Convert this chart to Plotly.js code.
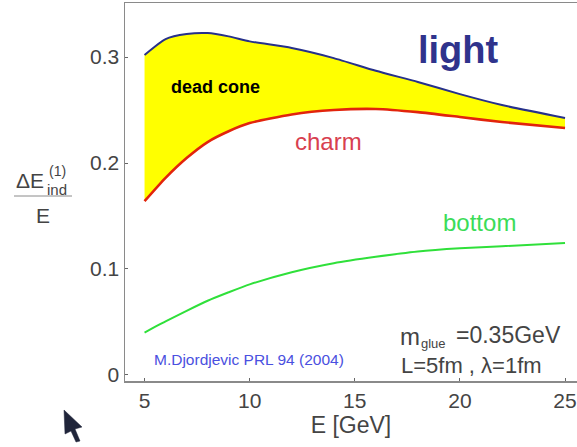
<!DOCTYPE html>
<html>
<head>
<meta charset="utf-8">
<script src="https://cdn.plot.ly/plotly-3.0.1.min.js"></script>
<style>html,body{margin:0;padding:0;background:#fff}#c{width:577px;height:447px}</style>
</head>
<body>
<div id="c"></div>
<script>
const energy = [5, 6, 7, 8, 9, 10, 12, 14, 16, 18, 20, 22, 25];
const light  = [0.302, 0.317, 0.3217, 0.3226, 0.3195, 0.3148, 0.3085, 0.299, 0.287, 0.2765, 0.265, 0.2547, 0.2425];
const charm  = [0.164, 0.186, 0.2047, 0.2198, 0.230, 0.2377, 0.2458, 0.250, 0.251, 0.248, 0.2434, 0.2387, 0.233];
const bottom = [0.040, 0.0505, 0.0605, 0.070, 0.078, 0.0855, 0.097, 0.1055, 0.1115, 0.1165, 0.1195, 0.1215, 0.1245];
const xTicks = [5, 10, 15, 20, 25];
const yTicks = [0, 0.1, 0.2, 0.3];
const yTickLabels = ['0', '0.1', '0.2', '0.3'];

const W = 577, H = 447, L = 125, R = 0, T = 3, B = 66;
const px = x => (x - L) / (W - L - R);
const py = y => 1 - (y - T) / (H - T - B);
const FONT = '"Liberation Sans", Arial, sans-serif';

function label(text, x, y, size, color, extra) {
  return Object.assign({
    text: text, xref: 'paper', yref: 'paper', x: px(x), y: py(y),
    xanchor: 'left', yanchor: 'middle', showarrow: false,
    font: {family: FONT, size: size, color: color}
  }, extra || {});
}

const traces = [
  {x: energy, y: charm, mode: 'lines', name: 'charm', line: {color: '#e2240c', width: 2.6, shape: 'spline', smoothing: 0.6}},
  {x: energy, y: light, mode: 'lines', name: 'light', fill: 'tonexty', fillcolor: '#ffff00',
   line: {color: '#26308a', width: 2, shape: 'spline', smoothing: 0.6}},
  {x: energy, y: bottom, mode: 'lines', name: 'bottom', line: {color: '#2fe03a', width: 2, shape: 'spline', smoothing: 0.6}}
];

const layout = {
  width: W, height: H,
  margin: {l: L, r: R, t: T, b: B, pad: 0},
  paper_bgcolor: '#fff', plot_bgcolor: '#fff',
  showlegend: false,
  font: {family: FONT, color: '#444'},
  xaxis: {
    range: [4.07, 25.57], tickvals: xTicks, ticktext: xTicks.map(String),
    ticks: 'inside', ticklen: 3, tickcolor: '#666', tickwidth: 1,
    showline: true, linecolor: '#8a8a8a', linewidth: 1.5, mirror: true,
    showgrid: false, zeroline: false, tickfont: {size: 21, color: '#444', family: FONT},
    title: {text: 'E [GeV]', font: {size: 23, color: '#444', family: FONT}, standoff: 0}
  },
  yaxis: {
    range: [-0.0057, 0.351], tickvals: yTicks, ticktext: yTickLabels,
    ticks: 'inside', ticklen: 3, tickcolor: '#666', tickwidth: 1,
    showline: true, linecolor: '#8a8a8a', linewidth: 1.5,
    showgrid: false, zeroline: false, tickfont: {size: 21, color: '#444', family: FONT}
  },
  shapes: [
    {type: 'line', xref: 'paper', yref: 'paper', x0: px(14), x1: px(72), y0: py(196), y1: py(196),
     line: {color: '#8a8a8a', width: 1}},
    {type: 'path', xref: 'paper', yref: 'paper', fillcolor: '#20253a', line: {color: '#20253a', width: 0.5},
     path: `M ${px(64)} ${py(410)} L ${px(82)} ${py(427)} L ${px(75)} ${py(429)} L ${px(80)} ${py(441)} L ${px(76)} ${py(442)} L ${px(71)} ${py(431)} L ${px(65)} ${py(434)} Z`}
  ],
  annotations: [
    label('light', 416, 50, 38, '#2f338c', {font: {family: FONT, size: 38, color: '#2f338c', weight: 700}}),
    label('dead cone', 169, 87, 18, '#000', {font: {family: FONT, size: 18, color: '#000', weight: 700}}),
    label('charm', 293, 141, 24, '#d8404f'),
    label('bottom', 441, 222, 24, '#3bdc58'),
    label('M.Djordjevic PRL 94 (2004)', 152, 359, 15.5, '#4a50e0'),
    label('m', 398, 336, 24, '#444'),
    label('glue', 419, 343, 13, '#444'),
    label('=0.35GeV', 454, 335, 23, '#444'),
    label('L=5fm , λ=1fm', 399, 365, 22, '#444'),
    label('ΔE', 14, 180, 21, '#444'),
    label('ind', 45, 189, 15, '#444'),
    label('(1)', 47, 171, 14, '#444'),
    label('E', 43, 215, 21, '#444', {xanchor: 'center'})
  ]
};

Plotly.newPlot('c', traces, layout, {displayModeBar: false, staticPlot: true});
</script>
</body>
</html>
